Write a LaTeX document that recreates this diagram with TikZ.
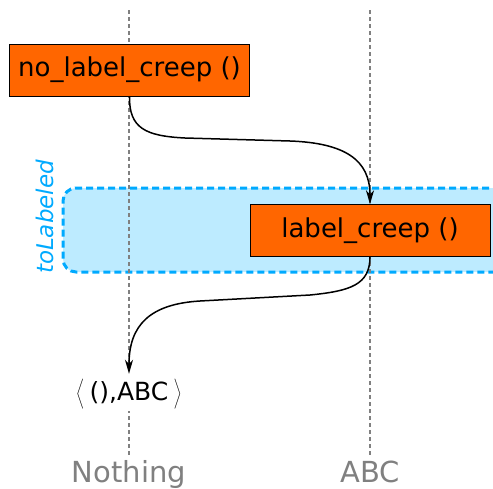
\documentclass[tikz,border=0pt]{standalone}
\usepackage{fontspec}
\setmainfont{DejaVu Sans}
\usetikzlibrary{arrows.meta}

\definecolor{fnorange}{HTML}{FF6600}
\definecolor{regionblue}{HTML}{00AAFF}
\definecolor{regionfill}{HTML}{BDEBFF}
\definecolor{lanegray}{HTML}{808080}

% tall angle brackets round the result tuple
\newcommand{\tuplestrut}{\vrule height 27pt depth 14pt width 0pt}

\begin{document}
\begin{tikzpicture}[x=1pt, y=-1pt,
    every node/.style={font=\fontsize{26}{30}\selectfont},
    fnbox/.style={draw=black, fill=fnorange, minimum width=240, minimum height=52, inner sep=0pt},
    lane/.style={draw=lanegray, dash pattern=on 4pt off 3pt, line width=1.5pt},
    lanelabel/.style={text=lanegray, font=\fontsize{29}{34}\selectfont, anchor=base},
    flow/.style={-{Stealth[length=14pt, width=8pt, inset=4pt]}, line width=1.5pt}]
    \useasboundingbox (0,0) rectangle (493,488);

    % Labeled region (runs past the right edge)
    \node[draw=regionblue, fill=regionfill, line width=3pt, dash pattern=on 7pt off 4pt,
          rounded corners=13pt, minimum width=450, minimum height=84, inner sep=0pt]
        (region) at (288,230) {};
    \node[text=regionblue, rotate=90, font=\fontsize{23}{27}\selectfont\itshape] (regionname) at (45,217) {toLabeled};

    % Lanes
    \node[lanelabel] (nothing) at (129,482) {Nothing};
    \node[lanelabel] (abc) at (370,482) {ABC};
    \coordinate (nothingtop) at (129,10);
    \coordinate (abctop) at (370,10);
    \draw[lane] (nothingtop) -- (nothing);
    \draw[lane] (abctop) -- (abc);

    % Calls
    \node[fnbox] (nolabel) at (129.5,70) {no\_label\_creep ()};
    \node[fnbox] (label) at (370,230.5) {label\_creep ()};

    % Result
    \node[fill=white, inner sep=1pt, anchor=base, text height=25pt, text depth=10pt,
          font=\fontsize{25}{30}\selectfont] (result) at (129,400)
        {$\left\langle\tuplestrut\right.\,$(),ABC$\,\left.\tuplestrut\right\rangle$};

    % Arrows
    \draw[flow] (nolabel.south) .. controls (129,128) and (145,136) .. (185,138)
        -- (290,141) .. controls (345,143) and (370,160) .. (label.north);
    \draw[flow] (label.south) .. controls (370,285) and (350,291) .. (310,295)
        -- (200,301) .. controls (150,304) and (129,325) .. (result.north);
\end{tikzpicture}
\end{document}
